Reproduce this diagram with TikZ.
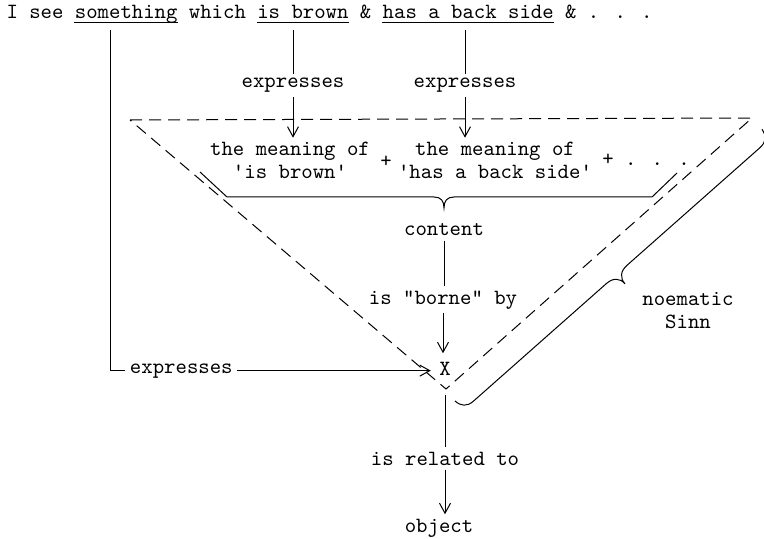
\documentclass[tikz,border=0pt]{standalone}
\usetikzlibrary{arrows.meta}
\begin{document}
\begin{tikzpicture}[x=0.5pt, y=-0.5pt, >={Straight Barb[length=5pt,width=5.5pt]}, line width=0.5pt,
        font=\fontsize{10.86}{11.5}\selectfont\ttfamily,
        word/.style={inner sep=0pt, anchor=base west},
        lbl/.style={inner sep=2pt, anchor=base},
        trisides/.style={dash pattern=on 6pt off 3.5pt},
        ul/.style={line width=0.45pt}]
    \useasboundingbox (0,0) rectangle (764,539);

    % ===== sentence =====
    \node[word] (wI) at (6,19) {I see};
    \node[word] (wSth) at (74.4,19) {something};
    \node[word] (wWhich) at (188.4,19) {which};
    \node[word] (wBrown) at (256.8,19) {is brown};
    \node[word] (wAnd1) at (359.4,19) {\&};
    \node[word] (wBack) at (382.2,19) {has a back side};
    \node[word] (wAnd2) at (564.6,19) {\& . . .};
    \foreach \w in {wSth, wBrown, wBack}
        \draw[ul] ([yshift=-1.5pt]\w.base west) -- ([yshift=-1.5pt]\w.base east);

    \coordinate (sSth) at (110,30);
    \coordinate (sBrown) at (293,30);
    \coordinate (sBack) at (465,30);

    % ===== noema triangle =====
    \coordinate (L) at (130,120);
    \coordinate (R) at (752,118);
    \coordinate (B) at (446,389);
    \draw[trisides] (L) -- (R) -- (B) -- cycle;

    \node[lbl] (exp1) at (293,88) {expresses};
    \node[lbl] (exp2) at (465,88) {expresses};
    \node[lbl, anchor=north, align=center] (mean1) at (290,137.7) {the meaning of\\'is brown'};
    \node[lbl, anchor=north, align=center] (mean2) at (495,137.7) {the meaning of\\'has a back side'};
    \node[lbl] (plus1) at (386,168) {+};
    \node[lbl] (plus2) at (646,166) {+ . . .};

    % brace under the meanings, arms along the sides
    \draw (200,172) -- (227,197) -- (434,197)
        .. controls (441,197) and (444,201) .. (444,208)
        .. controls (444,201) and (447,197) .. (454,197)
        -- (652,197) -- (677,173);

    \node[lbl] (content) at (444,236) {content};
    \node[lbl] (borne) at (443,304) {is "borne" by};
    \node[lbl, inner sep=4pt] (X) at (445,375) {X};
    \node[lbl] (exp3) at (181.3,373) {expresses};
    \node[lbl] (rel) at (445,465) {is related to};
    \node[lbl] (obj) at (439,532) {object};
    \node[lbl, anchor=north, align=center] (sinn) at (688,287.4) {noematic\\Sinn};

    % ===== connectors =====
    \draw (sBrown) -- (exp1.north);
    \draw[->] (exp1.south) -- (exp1.south |- mean1.north);
    \draw (sBack) -- (exp2.north);
    \draw[->] (exp2.south) -- (exp2.south |- mean2.north);
    \draw (sSth) |- (exp3.west);
    \draw[->] (exp3.east) -- (exp3.east -| X.west);
    \draw (content.south) -- (content.south |- borne.north);
    \draw[->] (borne.south) -- (borne.south |- X.north);
    \coordinate (relTop) at (445,395);
    \draw (relTop) -- (rel.north);
    \draw[->] (rel.south) -- (rel.south |- obj.north);

    % noematic Sinn brace along the right side
    \begin{scope}[shift={(R)}, rotate=41.5]
        \draw (0,15) .. controls (-1,23) and (-5,27.5) .. (-14,27.5) -- (-191,27.5)
            .. controls (-200,27.5) and (-205,32) .. (-205,40)
            .. controls (-205,32) and (-210,27.5) .. (-219,27.5) -- (-396,27.5)
            .. controls (-405,27.5) and (-409,23) .. (-410,15);
    \end{scope}
\end{tikzpicture}
\end{document}
